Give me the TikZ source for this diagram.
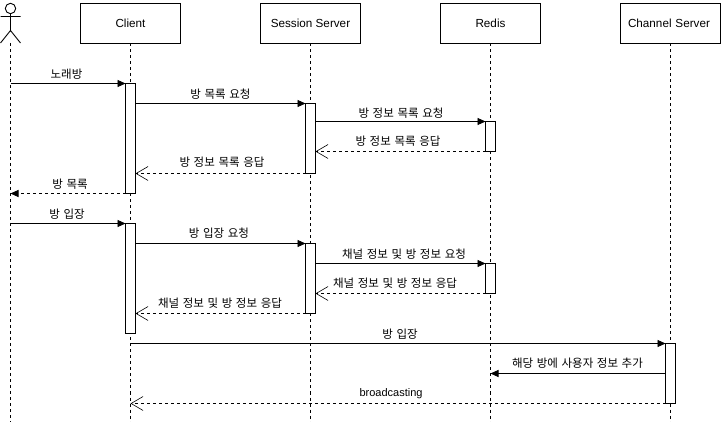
\documentclass[tikz,border=0pt]{standalone}
\usepackage{fontspec}
\setmainfont{Liberation Sans}
\newfontfamily\krfont[WordSpace=1.4]{Noto Sans CJK KR}
\usetikzlibrary{arrows.meta}
\tikzset{
  head/.style={draw=black,fill=white,line width=1pt,minimum width=100pt,minimum height=40pt,inner sep=0pt,outer sep=0pt,font=\fontsize{11.7}{13}\selectfont},
  act/.style={draw=black,fill=white,line width=1pt,minimum width=10pt,inner sep=0pt,outer sep=0pt},
  life/.style={line width=.9pt,dash pattern=on 3pt off 3pt},
  callm/.style={line width=.9pt,-{Triangle[length=8pt,width=7pt]}},
  retm/.style={line width=.9pt,dash pattern=on 3pt off 3pt,-{Straight Barb[length=12pt,width=14pt,line width=.6pt]}},
  retf/.style={line width=.9pt,dash pattern=on 3pt off 3pt,-{Triangle[length=8pt,width=7pt]}},
  lab/.style={inner sep=0pt,font=\krfont\fontsize{11.5}{13}\selectfont},
  lablat/.style={inner sep=0pt,font=\fontsize{11}{13}\selectfont},
}
\begin{document}
\begin{tikzpicture}[x=1pt,y=-1pt]
\useasboundingbox (0,0) rectangle (721,422);
% actor
\coordinate (actorbase) at (10.5,43);
\coordinate (end0) at (10.5,422);
\coordinate (end1) at (130.5,422);
\coordinate (end2) at (310.5,422);
\coordinate (end3) at (490.5,422);
\coordinate (end4) at (670.5,422);
\draw[line width=.9pt] (10.5,8.5) circle (5.2pt) (10.5,13.7) -- (10.5,30.5) (0.5,16.5) -- (20.5,16.5) (0.5,43) -- (10.5,30.5) -- (20.5,43);
% heads
\node[head] (client) at (130.5,23.5) {Client};
\node[head] (session) at (310.5,23.5) {Session Server};
\node[head] (redis) at (490.5,23.5) {Redis};
\node[head,text width=100pt,align=center] (channel) at (670.5,23.5) {\hspace*{-3pt}Channel Server};
% lifelines
\draw[life] (actorbase) -- (end0);
\draw[life] (client.south) -- (end1);
\draw[life] (session.south) -- (end2);
\draw[life] (redis.south) -- (end3);
\draw[life] (channel.south) -- (end4);
% activations
\node[act,minimum height=110pt] (c1) at (130.5,138.5) {};
\node[act,minimum height=110pt] (c2) at (130.5,278.5) {};
\node[act,minimum height=70pt] (s1) at (310.5,138.5) {};
\node[act,minimum height=70pt] (s2) at (310.5,278.5) {};
\node[act,minimum height=30pt] (r1) at (490.5,136.5) {};
\node[act,minimum height=30pt] (r2) at (490.5,278.5) {};
\node[act,minimum height=60pt] (h1) at (670.5,373.5) {};
% messages
\draw[callm] (actorbase |- c1.north) -- (c1.north west);
\draw[callm] (c1.east |- s1.north) -- (s1.north west);
\draw[callm] (s1.east |- r1.north) -- (r1.north west);
\draw[retm] (r1.south west) -- (s1.east |- r1.south);
\draw[retm] (s1.south west) -- (c1.east |- s1.south);
\draw[retf] (c1.south west) -- (actorbase |- c1.south);
\draw[callm] (actorbase |- c2.north) -- (c2.north west);
\draw[callm] (c2.east |- s2.north) -- (s2.north west);
\draw[callm] (s2.east |- r2.north) -- (r2.north west);
\draw[retm] (r2.south west) -- (s2.east |- r2.south);
\draw[retm] (s2.south west) -- (c2.east |- s2.south);
\draw[callm] (client.south |- h1.north) -- (h1.north west);
\draw[callm] (h1.west) -- (redis.south |- h1.west);
\draw[retm] (h1.south west) -- (client.south |- h1.south);
% labels
\node[lab] (l1) at (66.5,74) {노래방};
\node[lab] (l2) at (220.5,94) {방 목록 요청};
\node[lab] (l3) at (401,113) {방 정보 목록 요청};
\node[lab] (l4) at (398,141) {방 정보 목록 응답};
\node[lab] (l5) at (222,162) {방 정보 목록 응답};
\node[lab] (l6) at (70,184) {방 목록};
\node[lab] (l7) at (67,214) {방 입장};
\node[lab] (l8) at (219,233.5) {방 입장 요청};
\node[lab] (l9) at (404,254) {채널 정보 및 방 정보 요청};
\node[lab] (l10) at (395,283) {채널 정보 및 방 정보 응답};
\node[lab] (l11) at (220,303) {채널 정보 및 방 정보 응답};
\node[lab] (l12) at (400,334) {방 입장};
\node[lab] (l13) at (577.5,363) {해당 방에 사용자 정보 추가};
\node[lablat] (l14) at (391,393.5) {broadcasting};
\end{tikzpicture}
\end{document}
